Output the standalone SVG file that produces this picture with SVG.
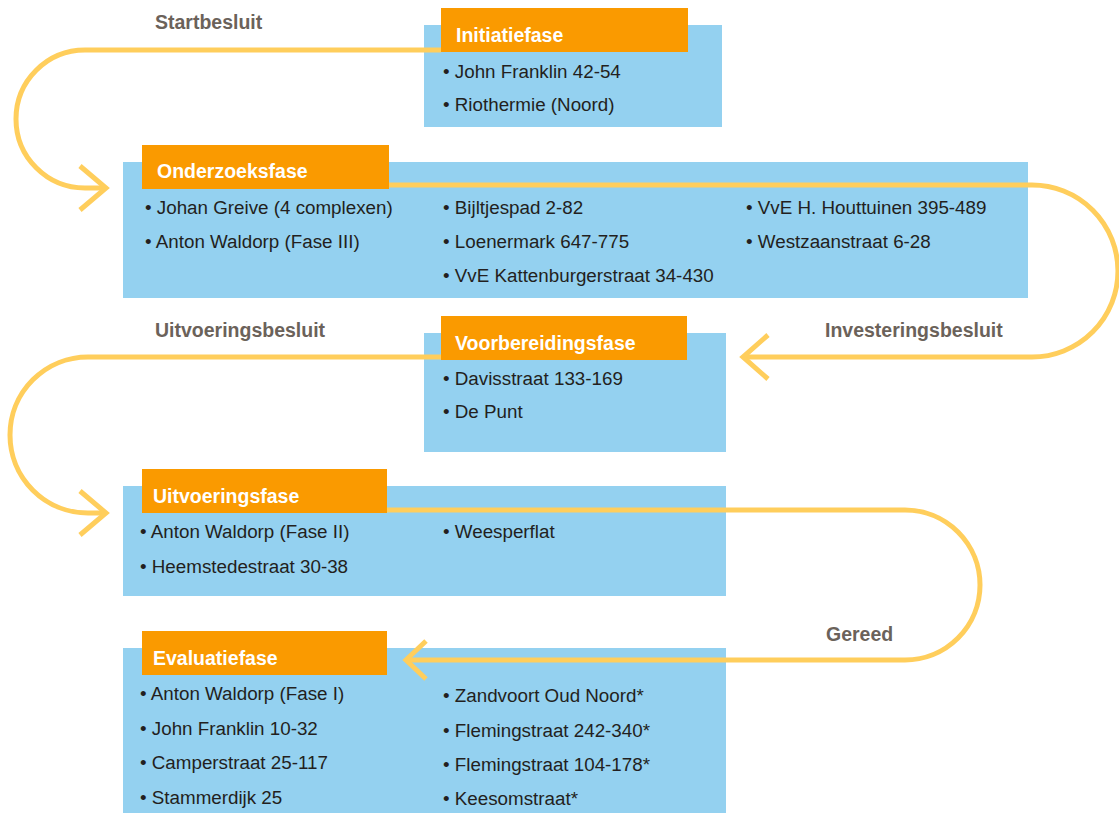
<svg xmlns="http://www.w3.org/2000/svg" width="1119" height="813" viewBox="0 0 1119 813">
<style>
.box{fill:#94D1F0}
.hdr{fill:#FA9A00}
.ttl{font-family:"Liberation Sans",Arial,sans-serif;font-weight:bold;font-size:19.5px;fill:#FFFFFF}
.itm{font-family:"Liberation Sans",Arial,sans-serif;font-size:18.8px;fill:#231F20}
.lbl{font-family:"Liberation Sans",Arial,sans-serif;font-weight:bold;font-size:19.5px;fill:#6B625A}
.con{fill:none;stroke:#FFCE5C;stroke-width:5}
</style>
<rect width="1119" height="813" fill="#FFFFFF"/>
<g id="initiatiefase">
<rect class="box" x="424" y="25" width="298" height="102"/>
<rect class="hdr" x="441" y="8" width="247" height="44"/>
<text class="ttl" x="456" y="42">Initiatiefase</text>
<text class="itm" x="443" y="78">• John Franklin 42-54</text>
<text class="itm" x="443" y="111">• Riothermie (Noord)</text>
</g>
<g id="onderzoeksfase">
<rect class="box" x="123" y="162" width="905" height="136"/>
<rect class="hdr" x="142" y="145" width="247" height="44"/>
<text class="ttl" x="157" y="178">Onderzoeksfase</text>
<text class="itm" x="145" y="214">• Johan Greive (4 complexen)</text>
<text class="itm" x="145" y="248">• Anton Waldorp (Fase III)</text>
<text class="itm" x="443" y="214">• Bijltjespad 2-82</text>
<text class="itm" x="443" y="248">• Loenermark 647-775</text>
<text class="itm" x="443" y="282">• VvE Kattenburgerstraat 34-430</text>
<text class="itm" x="746" y="214">• VvE H. Houttuinen 395-489</text>
<text class="itm" x="746" y="248">• Westzaanstraat 6-28</text>
</g>
<g id="voorbereidingsfase">
<rect class="box" x="424" y="333" width="302" height="119"/>
<rect class="hdr" x="441" y="316" width="246" height="44"/>
<text class="ttl" x="455" y="350">Voorbereidingsfase</text>
<text class="itm" x="443" y="385">• Davisstraat 133-169</text>
<text class="itm" x="443" y="418">• De Punt</text>
</g>
<g id="uitvoeringsfase">
<rect class="box" x="123" y="486" width="603" height="110"/>
<rect class="hdr" x="142" y="469" width="245" height="44"/>
<text class="ttl" x="153" y="503">Uitvoeringsfase</text>
<text class="itm" x="140" y="538">• Anton Waldorp (Fase II)</text>
<text class="itm" x="140" y="573">• Heemstedestraat 30-38</text>
<text class="itm" x="443" y="538">• Weesperflat</text>
</g>
<g id="evaluatiefase">
<rect class="box" x="123" y="648" width="603" height="165"/>
<rect class="hdr" x="142" y="631" width="245" height="44"/>
<text class="ttl" x="153" y="665">Evaluatiefase</text>
<text class="itm" x="140" y="700">• Anton Waldorp (Fase I)</text>
<text class="itm" x="140" y="735">• John Franklin 10-32</text>
<text class="itm" x="140" y="769">• Camperstraat 25-117</text>
<text class="itm" x="140" y="804">• Stammerdijk 25</text>
<text class="itm" x="443" y="702">• Zandvoort Oud Noord*</text>
<text class="itm" x="443" y="737">• Flemingstraat 242-340*</text>
<text class="itm" x="443" y="771">• Flemingstraat 104-178*</text>
<text class="itm" x="443" y="805">• Keesomstraat*</text>
</g>
<g id="connectors">
<path class="con" d="M441,50 H85 A69,69 0 0 0 85,188 H106"/>
<path class="con" d="M80,166 L106,188 L80,210"/>
<path class="con" d="M389,185 H1032 A86,86 0 0 1 1032,357 H743"/>
<path class="con" d="M768,335 L743,357 L768,379"/>
<path class="con" d="M441,357 H88 A78,78 0 0 0 88,513 H106"/>
<path class="con" d="M80,491 L106,513 L80,535"/>
<path class="con" d="M387,510 H905 A75,75 0 0 1 905,660 H406"/>
<path class="con" d="M426,641 L406,660 L426,679"/>
</g>
<g id="labels">
<text class="lbl" x="155" y="29">Startbesluit</text>
<text class="lbl" x="155" y="337">Uitvoeringsbesluit</text>
<text class="lbl" x="825" y="337">Investeringsbesluit</text>
<text class="lbl" x="826" y="641">Gereed</text>
</g>
</svg>
